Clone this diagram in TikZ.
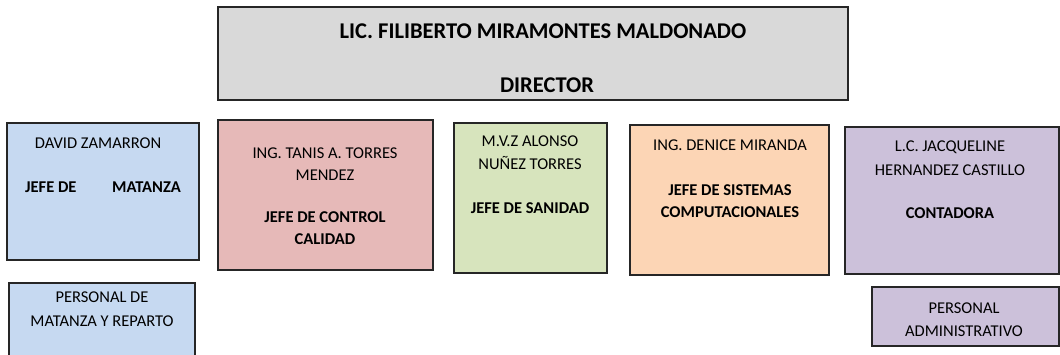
\documentclass[tikz,border=0pt]{standalone}
\usepackage{fontspec}
\setmainfont{Carlito}
\definecolor{cgray}{HTML}{D9D9D9}
\definecolor{cblue}{HTML}{C6D9F1}
\definecolor{cpink}{HTML}{E6B9B8}
\definecolor{cgreen}{HTML}{D7E4BD}
\definecolor{corange}{HTML}{FCD5B5}
\definecolor{cpurple}{HTML}{CCC1DA}
\begin{document}
\begin{tikzpicture}[x=1pt,y=-1pt,
  box/.style={draw=black!85,line width=1.3pt},
  txt/.style={font=\fontsize{16.5}{20}\selectfont,inner sep=0pt,anchor=base},
  btxt/.style={font=\fontsize{16.5}{20}\selectfont\bfseries,inner sep=0pt,anchor=base},
  ttl/.style={font=\fontsize{22.5}{26}\selectfont\bfseries,inner sep=0pt,anchor=base}]
\useasboundingbox (0,0) rectangle (1060,354);
% boxes
\path[box,fill=cgray] (218,7) rectangle (848,100);
\path[box,fill=cblue] (7,123) rectangle (199,260);
\path[box,fill=cblue] (9,283) rectangle (195,362);
\path[box,fill=cpink] (218,120) rectangle (433,270);
\path[box,fill=cgreen] (454,123) rectangle (607,273);
\path[box,fill=corange] (630,125) rectangle (829,275);
\path[box,fill=cpurple] (845,127) rectangle (1059,274);
\path[box,fill=cpurple] (872,287) rectangle (1059,346);
% director texts
\node[ttl] (d1) at (543,38) {LIC. FILIBERTO MIRAMONTES MALDONADO};
\node[ttl] (d2) at (547,92) {DIRECTOR};
% David
\node[txt] (a1) at (98,148) {DAVID ZAMARRON};
\node[btxt,anchor=base west] (a2) at (25,192) {JEFE DE};
\node[btxt,anchor=base east] (a3) at (181,192) {MATANZA};
% personal matanza
\node[txt] (b1) at (102,302) {PERSONAL DE};
\node[txt] (b2) at (102,326) {MATANZA Y REPARTO};
% Tanis
\node[txt] (c1) at (325,158) {ING. TANIS A. TORRES};
\node[txt] (c2) at (325,180) {MENDEZ};
\node[btxt] (c3) at (325,222) {JEFE DE CONTROL};
\node[btxt] (c4) at (325,244) {CALIDAD};
% Alonso
\node[txt] (e1) at (530,146) {M.V.Z ALONSO};
\node[txt] (e2) at (530,169) {NUÑEZ TORRES};
\node[btxt] (e3) at (530,213) {JEFE DE SANIDAD};
% Denice
\node[txt] (f1) at (730,150) {ING. DENICE MIRANDA};
\node[btxt] (f2) at (730,195) {JEFE DE SISTEMAS};
\node[btxt] (f3) at (730,217) {COMPUTACIONALES};
% Jacqueline
\node[txt] (g1) at (950,151) {L.C. JACQUELINE};
\node[txt] (g2) at (950,175) {HERNANDEZ CASTILLO};
\node[btxt] (g3) at (950,218) {CONTADORA};
% personal administrativo
\node[txt] (h1) at (964,313) {PERSONAL};
\node[txt] (h2) at (964,336) {ADMINISTRATIVO};
\end{tikzpicture}
\end{document}
